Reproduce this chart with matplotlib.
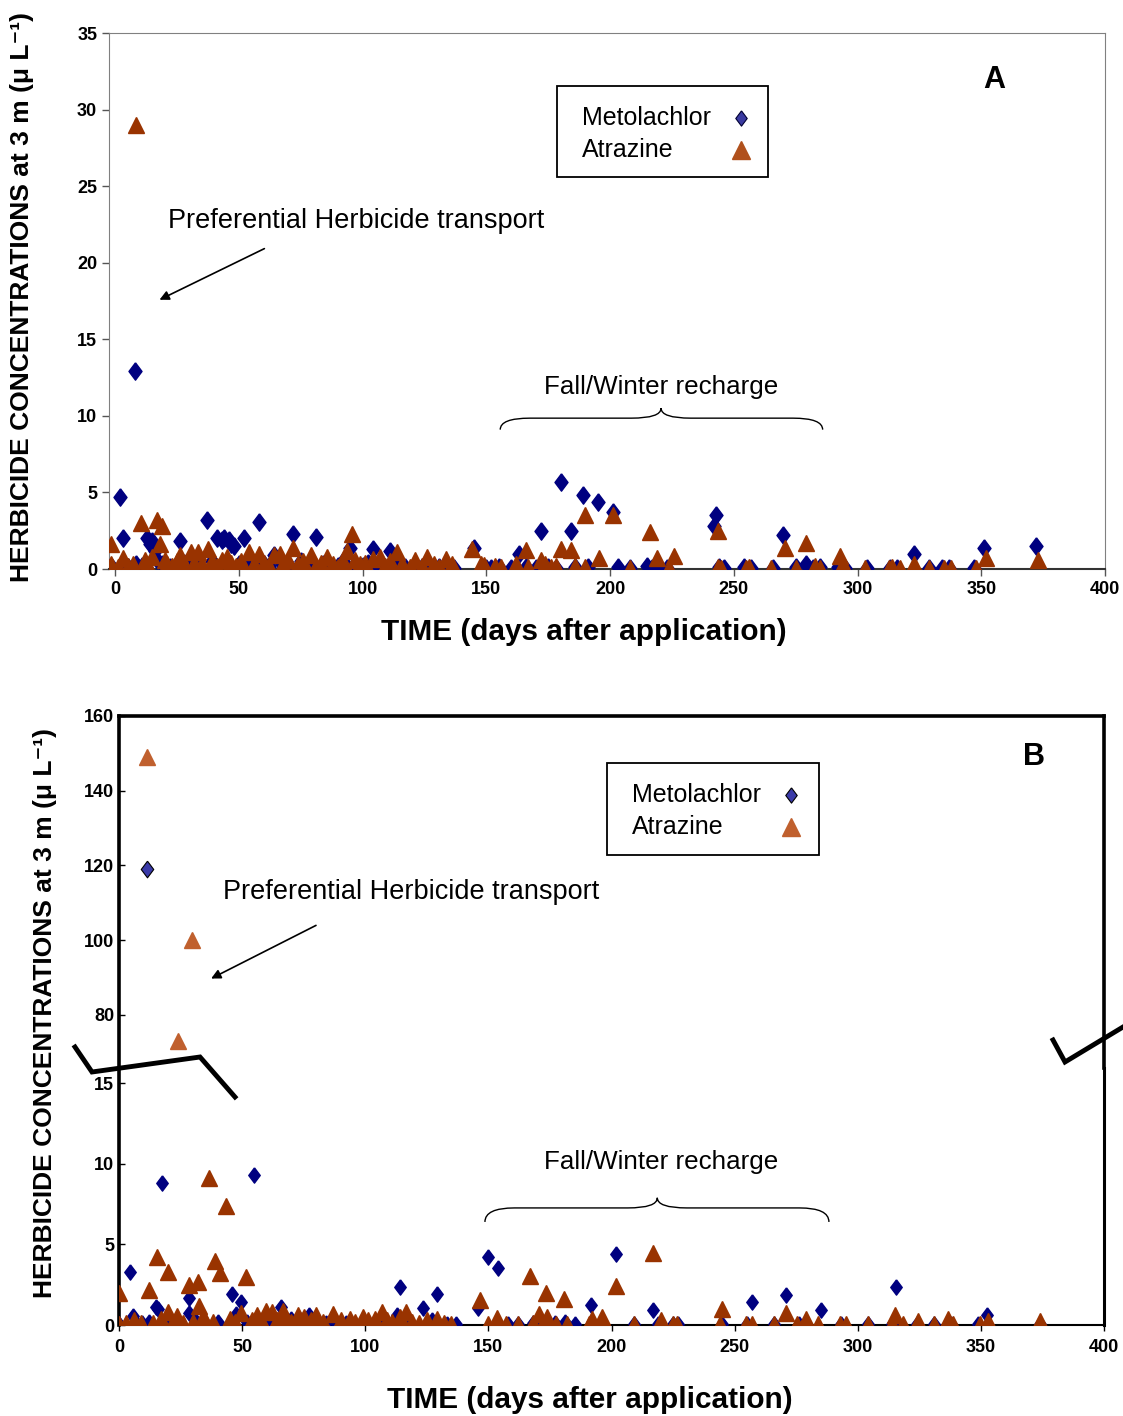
import matplotlib
matplotlib.use("Agg")
import matplotlib.pyplot as plt
from matplotlib import font_manager
from matplotlib.lines import Line2D
from matplotlib.patches import Rectangle, PathPatch
from matplotlib.path import Path

# ---------------- data (days after application, concentration) ----------------
a_met_days = [-1.5, 2, 3, 5, 8, 8.5, 11, 13, 14, 15, 16, 17, 19, 22, 26, 28, 31, 34, 37, 39,
              41, 43, 44, 46, 47, 48, 50, 52, 54, 58, 60, 62, 64, 66, 68, 70, 72, 75, 77, 79,
              81, 84, 87, 90, 92, 95, 97, 100, 102, 104, 106, 108, 111, 114, 117, 120, 124, 127,
              131, 134, 137, 145, 150, 152, 155, 160, 163, 166, 170, 172, 175, 178, 180, 184,
              186, 189, 191, 195, 201, 203, 208, 215, 217, 219, 223, 242, 243, 244, 246, 254,
              257, 266, 270, 275, 279, 282, 285, 292, 295, 304, 313, 316, 323, 329, 334, 337,
              347, 351, 372]
a_met_vals = [0.2, 4.7, 2.0, 0.1, 12.9, 0.3, 0.2, 2.0, 1.6, 1.8, 1.2, 0.6, 0.3, 0.1, 1.8, 0.4,
              0.2, 0.2, 3.2, 0.5, 2.0, 1.9, 2.0, 1.9, 1.6, 1.5, 0.3, 2.0, 0.2, 3.1, 0.3, 0.2,
              0.9, 0.6, 0.1, 0.3, 2.3, 0.5, 0.2, 0.4, 2.1, 0.3, 0.1, 0.2, 0.5, 1.4, 0.3, 0.2,
              0.4, 1.3, 0.2, 0.3, 1.2, 0.2, 0.1, 0.05, 0.1, 0.05, 0.1, 0.1, 0.05, 1.4, 0.05,
              0.05, 0.1, 0.05, 1.0, 0.1, 0.05, 2.5, 0.1, 0.05, 5.7, 2.5, 0.1, 4.8, 0.1, 4.4,
              3.7, 0.1, 0.05, 0.2, 0.05, 0.1, 0.05, 2.8, 3.5, 0.1, 0.05, 0.1, 0.05, 0.05, 2.2,
              0.1, 0.3, 0.05, 0.1, 0.1, 0.05, 0.05, 0.05, 0.05, 1.0, 0.05, 0.05, 0.05, 0.05,
              1.4, 1.5]

a_atr_days = [-1.5, -1.5, 1, 3, 5, 7, 8.5, 10.5, 12, 13, 15, 17, 18, 19, 20, 21, 23, 25, 26, 28,
              30.5, 32, 33.5, 35, 37.5, 39, 41, 43, 45, 47, 49, 51, 54, 56, 58, 60, 62, 64,
              66.5, 68, 70, 72, 74, 76, 79, 81, 83, 85.5, 88, 90, 92, 93.5, 95.6, 97, 99, 101,
              104, 107, 109, 111, 113.7, 116, 119, 121, 124, 126, 129, 131, 133.5, 136, 144,
              148, 149, 153.5, 156, 162, 166, 167, 172, 173.6, 176, 178, 180, 184, 186, 190,
              190, 195.5, 201, 208, 216, 219, 224, 226, 243.5, 243.5, 245, 255, 256, 265,
              270.6, 275, 279, 283, 285, 293, 294, 303, 312.6, 314, 317, 323, 329, 335, 337.6,
              348, 352, 373]
a_atr_vals = [1.6, 0.3, 0.1, 0.7, 0.2, 0.3, 29.0, 3.0, 0.6, 0.3, 0.8, 3.2, 1.6, 2.8, 0.6, 0.3,
              0.2, 0.5, 0.9, 0.3, 1.1, 0.4, 1.1, 0.3, 1.3, 0.5, 0.2, 0.6, 0.8, 0.4, 0.2, 0.5,
              1.1, 0.3, 1.0, 0.4, 0.2, 0.9, 1.0, 0.3, 0.6, 1.4, 0.3, 0.5, 0.9, 0.2, 0.4, 0.8,
              0.3, 0.1, 0.5, 1.2, 2.3, 0.6, 0.3, 0.4, 0.65, 0.8, 0.2, 0.5, 1.1, 0.3, 0.1, 0.6,
              0.2, 0.8, 0.3, 0.1, 0.65, 0.3, 1.3, 0.3, 0.25, 0.2, 0.1, 0.35, 1.25, 0.1, 0.6,
              0.35, 0.1, 0.2, 1.3, 1.25, 0.2, 3.5, 0.1, 0.7, 3.5, 0.05, 2.4, 0.7, 0.05, 0.85,
              2.5, 0.1, 0.05, 0.05, 0.1, 0.05, 1.4, 0.05, 1.7, 0.2, 0.05, 0.85, 0.35, 0.05,
              0.05, 0.1, 0.05, 0.35, 0.05, 0.05, 0.05, 0.05, 0.7, 0.6]

b_met_days = [0, 4.4, 5.7, 7, 9.3, 11.3, 12, 15, 16, 17.6, 20, 24, 28.3, 28.3, 31, 35, 40, 46,
              47.4, 49.4, 52, 54.7, 58, 62, 65.6, 70, 74, 77, 80, 84, 88, 92, 96, 100, 104,
              108, 113, 114, 118, 123.5, 127, 129, 133, 137, 145.6, 150, 154, 158, 162, 168,
              173, 177, 181, 185, 191.7, 196, 202, 209, 216.8, 219, 225, 227, 245, 255, 257,
              266, 271, 276, 285, 293, 304, 314, 315.4, 324, 331, 338, 349, 352.6, 374]
b_met_vals = [0.05, 3.3, 0.55, 0.1, 0.1, 119.0, 0.2, 1.1, 1.0, 8.8, 0.1, 0.2, 1.7, 0.75, 0.3,
              0.1, 0.2, 1.95, 0.7, 1.4, 0.2, 9.3, 0.3, 0.2, 1.1, 0.4, 0.3, 0.6, 0.3, 0.1, 0.2,
              0.1, 0.05, 0.1, 0.05, 0.1, 0.6, 2.35, 0.1, 1.05, 0.3, 1.9, 0.05, 0.05, 1.05, 4.25,
              3.55, 0.05, 0.05, 0.1, 0.05, 0.1, 0.2, 0.05, 1.25, 0.05, 4.4, 0.05, 0.95, 0.05,
              0.05, 0.05, 0.05, 0.05, 1.45, 0.05, 1.85, 0.05, 0.95, 0.05, 0.05, 0.05, 2.35,
              0.05, 0.05, 0.05, 0.05, 0.65, 0.05]

b_atr_days = [0, 0, 3, 6, 9, 11.3, 12, 14, 15.4, 17, 19.8, 20, 22, 23.5, 23.9, 26, 28.3, 29.6,
              30, 32, 32.4, 34, 35, 36.4, 38, 39, 41, 43.3, 45, 47, 49.4, 51.4, 54, 56, 58,
              59.5, 62, 64, 66.4, 68, 70, 72.5, 75, 78, 80, 83, 87, 90, 94, 96, 99, 101, 104,
              106.8, 109, 111, 114, 116.6, 119, 122, 125, 129, 132, 135, 146.5, 150, 153.5,
              157, 162, 166.8, 168, 170.4, 172, 173.6, 174, 177.5, 180.7, 182, 190.8, 192, 196,
              202, 209, 216.8, 220, 225, 226.6, 244, 245, 254.8, 257, 266, 271, 275.4, 279,
              284, 292.7, 295.4, 304, 314, 315, 318.4, 324.6, 330.9, 336.5, 338.5, 349.5, 353,
              374]
b_atr_vals = [2.0, 0.05, 0.1, 0.3, 0.1, 149.0, 2.2, 0.1, 4.2, 0.4, 0.8, 3.3, 0.2, 0.55, 73.0,
              0.1, 2.5, 100.0, 0.2, 2.7, 1.2, 0.5, 0.3, 9.1, 0.2, 4.0, 3.2, 7.4, 0.4, 0.2, 0.75,
              3.0, 0.3, 0.6, 0.2, 0.9, 0.8, 0.3, 0.85, 0.4, 0.2, 0.6, 0.5, 0.3, 0.6, 0.2, 0.7,
              0.3, 0.35, 0.2, 0.5, 0.3, 0.4, 0.8, 0.3, 0.2, 0.5, 0.8, 0.2, 0.1, 0.3, 0.4, 0.1,
              0.05, 1.55, 0.05, 0.45, 0.05, 0.05, 3.05, 0.1, 0.7, 0.05, 2.0, 0.5, 0.05, 1.6,
              0.05, 0.05, 0.35, 0.5, 2.4, 0.05, 4.5, 0.3, 0.05, 0.05, 0.05, 1.0, 0.05, 0.05,
              0.05, 0.75, 0.05, 0.35, 0.05, 0.05, 0.05, 0.05, 0.05, 0.6, 0.05, 0.25, 0.05, 0.4,
              0.05, 0.05, 0.25, 0.25]

x_ticks = [0, 50, 100, 150, 200, 250, 300, 350, 400]
a_y_ticks = [0, 5, 10, 15, 20, 25, 30, 35]
b_low_ticks = [0, 5, 10, 15]
b_high_ticks = [80, 100, 120, 140, 160]

series_names = ["Metolachlor", "Atrazine"]
ylab = "HERBICIDE CONCENTRATIONS at 3 m (\u03bc L\u207b\u00b9)"
xlab = "TIME (days after application)"

# ---------------- style ----------------
def have(name):
    try:
        font_manager.findfont(name, fallback_to_default=False)
        return True
    except Exception:
        return False

sans = "Liberation Sans" if have("Liberation Sans") else "DejaVu Sans"
plt.rcParams["font.family"] = [sans, "DejaVu Sans"]

NAVY = "#000080"
BROWN = "#993300"
W, H = 1123, 1416


def rect(l, t, r, b):
    return [l / W, 1 - b / H, (r - l) / W, (b - t) / H]


diamond = [(0, 1), (0.75, 0), (0, -1), (-0.75, 0), (0, 1)]


def brace(ax, x0, x1, xm, yb, yl, yc, r):
    verts = [(x0, yb), (x0, yl), (x0 + r, yl), (xm - r, yl), (xm, yl), (xm, yc),
             (xm, yl), (xm + r, yl), (x1 - r, yl), (x1, yl), (x1, yb)]
    codes = [Path.MOVETO, Path.CURVE3, Path.CURVE3, Path.LINETO, Path.CURVE3, Path.CURVE3,
             Path.CURVE3, Path.CURVE3, Path.LINETO, Path.CURVE3, Path.CURVE3]
    ax.add_patch(PathPatch(Path(verts, codes), fill=False, lw=1.0, color="black"))


def legend_box(ax, box, tx, mx, y_rows, tri_color, dia_face, dia_edge):
    x0, y0, x1, y1 = box
    ax.add_patch(Rectangle((x0, y0), x1 - x0, y1 - y0, transform=ax.transAxes,
                           fill=False, lw=1.3, edgecolor="black", zorder=5))
    for name, yy in zip(series_names, y_rows):
        ax.text(tx, yy, name, transform=ax.transAxes, fontsize=18, va="center", ha="left",
                zorder=6)
    ax.plot([mx], [y_rows[0]], marker=diamond, ms=11, mfc=dia_face, mec=dia_edge, mew=0.8,
            transform=ax.transAxes, zorder=6, ls="none")
    ax.plot([mx], [y_rows[1]], marker="^", ms=13, mfc=tri_color, mec=tri_color,
            transform=ax.transAxes, zorder=6, ls="none")


fig = plt.figure(figsize=(11.23, 14.16), dpi=100)

# ---------------- panel A ----------------
axA = fig.add_axes(rect(109, 33, 1105, 569))
axA.plot(a_met_days, a_met_vals, ls="none", marker=diamond, ms=12.5, color=NAVY, mec=NAVY, zorder=3)
axA.plot(a_atr_days, a_atr_vals, ls="none", marker="^", ms=11.5, color=BROWN, mec=BROWN, zorder=4)
axA.set_xlim(-2.5, 400)
axA.set_ylim(0, 35)
axA.set_xticks(x_ticks)
axA.set_yticks(a_y_ticks)
for s in ["left", "top", "right"]:
    axA.spines[s].set_color("#808080")
axA.spines["bottom"].set_color("#333333")
axA.spines["bottom"].set_linewidth(1.5)
axA.tick_params(direction="out", length=5, width=1, color="#555555", labelsize=13)
axA.tick_params(axis="x", pad=4)
for lb in axA.get_xticklabels() + axA.get_yticklabels():
    lb.set_fontweight("bold")
axA.text(0.889, 0.912, "A", transform=axA.transAxes, fontsize=22, fontweight="bold",
         ha="center", va="center")
axA.annotate("", xy=(16.9, 17.5), xytext=(61.3, 21.0),
             arrowprops=dict(arrowstyle="-|>", color="black", lw=1.2, mutation_scale=14))
axA.text(21.4, 22.7, "Preferential Herbicide transport", fontsize=19.5, ha="left", va="center")
axA.text(220.6, 11.9, "Fall/Winter recharge", fontsize=18.7, ha="center", va="center")
brace(axA, 155.6, 285.9, 220.6, 9.1, 9.85, 10.5, 12)
legend_box(axA, (0.45, 0.731, 0.662, 0.902), 0.475, 0.6345, (0.841, 0.781),
           "#B0501C", "#3A3AA0", "#000033")
fig.text(22 / W, 1 - 297 / H, ylab, rotation=90, fontsize=19, fontweight="bold",
         ha="center", va="center")
fig.text(584 / W, 1 - 632 / H, xlab, fontsize=21.4, fontweight="bold", ha="center", va="center")

# ---------------- panel B (broken axis) ----------------
axBt = fig.add_axes(rect(119, 716, 1104, 1068))
axBb = fig.add_axes(rect(119, 1068, 1104, 1325))
for ax in (axBt, axBb):
    ax.set_xlim(0, 400)
    ax.patch.set_alpha(0)
axBt.set_ylim(65.8, 160)
axBb.set_ylim(0, 15.96)

axBb.plot(b_met_days, b_met_vals, ls="none", marker=diamond, ms=11, color=NAVY, mec=NAVY, zorder=3)
axBb.plot(b_atr_days, b_atr_vals, ls="none", marker="^", ms=11, color=BROWN, mec=BROWN, zorder=4)
axBt.plot(b_met_days, b_met_vals, ls="none", marker=diamond, ms=12, color="#3A3AA8",
          mec="black", mew=0.8, zorder=3)
axBt.plot(b_atr_days, b_atr_vals, ls="none", marker="^", ms=12, color="#C0602E",
          mec="#C0602E", zorder=4)

axBt.spines["bottom"].set_visible(False)
axBb.spines["top"].set_visible(False)
for s in ["left", "top", "right"]:
    axBt.spines[s].set_linewidth(2.6)
    axBt.spines[s].set_color("black")
axBb.spines["left"].set_linewidth(2.6)
axBb.spines["right"].set_linewidth(2.2)
axBb.spines["bottom"].set_linewidth(1.5)
axBt.set_xticks([])
axBt.set_yticks(b_high_ticks)
axBb.set_yticks(b_low_ticks)
axBb.set_xticks(x_ticks)
for ax in (axBt, axBb):
    ax.tick_params(direction="in", length=4, width=1, labelsize=13)
    for lb in ax.get_xticklabels() + ax.get_yticklabels():
        lb.set_fontweight("bold")
axBb.tick_params(axis="x", direction="out", pad=6)

axBt.text(0.929, 0.884, "B", transform=axBt.transAxes, fontsize=22, fontweight="bold",
          ha="center", va="center")
axBt.annotate("", xy=(36.4, 89.4), xytext=(81, 104.3),
              arrowprops=dict(arrowstyle="-|>", color="black", lw=1.2, mutation_scale=14))
axBt.text(42.1, 112.9, "Preferential Herbicide transport", fontsize=19.5, ha="left", va="center")
legend_box(axBt, (0.4954, 0.605, 0.7107, 0.8665), 0.5208, 0.682, (0.7756, 0.6847),
           "#C0602E", "#3A3AA8", "black")
axBb.text(220.2, 10.1, "Fall/Winter recharge", fontsize=18.7, ha="center", va="center")
brace(axBb, 148.6, 288.3, 218.6, 6.4, 7.27, 7.9, 12)

fig.text(45 / W, 1 - 1013 / H, ylab, rotation=90, fontsize=19, fontweight="bold",
         ha="center", va="center")
fig.text(590 / W, 1 - 1400 / H, xlab, fontsize=21.4, fontweight="bold", ha="center", va="center")

# break marks
for xs, ys in [([75, 92, 200, 235], [1047, 1072, 1057, 1097]),
               ([1053, 1065, 1123], [1040, 1062, 1027])]:
    fig.add_artist(Line2D([x / W for x in xs], [1 - y / H for y in ys], transform=fig.transFigure,
                          color="black", lw=3.5, solid_joinstyle="miter", zorder=10))

fig.savefig("out.png", dpi=100)
